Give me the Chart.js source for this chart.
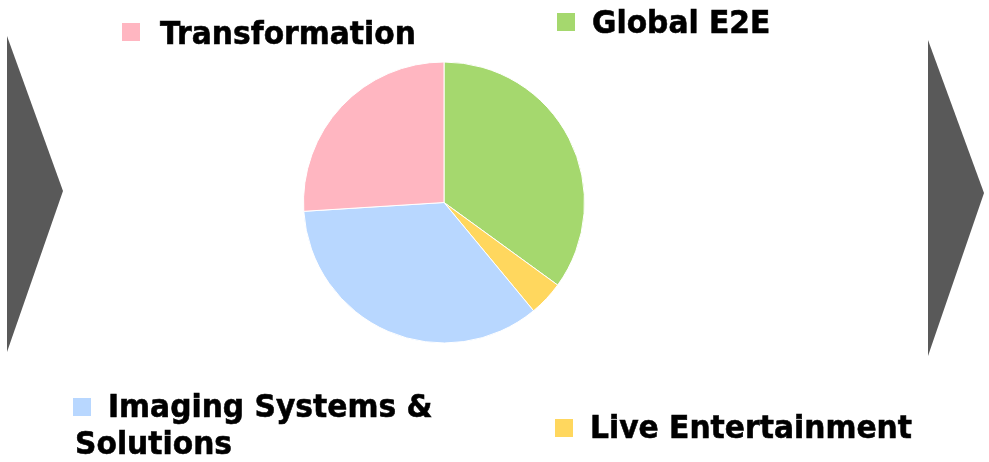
<!DOCTYPE html>
<html>
<head>
<meta charset="utf-8">
<script src="https://cdn.jsdelivr.net/npm/chart.js@4.4.1/dist/chart.umd.min.js"></script>
<style>
  html, body { margin: 0; padding: 0; background: #fff; }
  #pie { display: block; }
</style>
</head>
<body>
<canvas id="pie" width="989" height="462"></canvas>
<script>
// segmentos do gráfico (sentido horário a partir do topo)
const categories = ["Global E2E", "Live Entertainment", ["Imaging Systems &", "Solutions"], "Transformation"];
const shares = [35, 4, 35, 26];
const colors = ["#a5d86e", "#ffd75e", "#b8d7ff", "#ffb6c1"];

// onde cada legenda é escrita: quadrado + texto
const legendSpots = [
  { box: [557, 13], text: [592, 33] },
  { box: [555, 419], text: [590, 438] },
  { box: [73, 398], text: [108, 417], next: [75, 454] },
  { box: [122, 23], text: [160, 44] }
];

// setas cinzas nas laterais
const arrowsPlugin = {
  id: "arrows",
  beforeDraw(chart) {
    const ctx = chart.ctx;
    ctx.save();
    ctx.fillStyle = "#595959";
    [[7, 36, 63, 191, 352], [928, 40, 984, 193, 356]].forEach(([x0, top, tipX, tipY, bottom]) => {
      ctx.beginPath();
      ctx.moveTo(x0, top);
      ctx.lineTo(tipX, tipY);
      ctx.lineTo(x0, bottom);
      ctx.closePath();
      ctx.fill();
    });
    ctx.restore();
  }
};

// texto um pouco mais estreito e mais grosso
function drawBoldText(ctx, text, x, y) {
  ctx.save();
  ctx.translate(x, y);
  ctx.scale(0.93, 1);
  ctx.fillText(text, 0, 0);
  ctx.strokeText(text, 0, 0);
  ctx.restore();
}

// legenda espalhada em volta da pizza
const scatteredLegend = {
  id: "scatteredLegend",
  afterDraw(chart) {
    const ctx = chart.ctx;
    const labels = chart.data.labels;
    const bg = chart.data.datasets[0].backgroundColor;
    ctx.save();
    ctx.font = "bold 32px 'DejaVu Sans'";
    ctx.textBaseline = "alphabetic";
    ctx.lineWidth = 0.6;
    ctx.strokeStyle = "#000";
    labels.forEach((label, i) => {
      const spot = legendSpots[i];
      ctx.fillStyle = bg[i];
      ctx.fillRect(spot.box[0], spot.box[1], 18, 18);
      ctx.fillStyle = "#000";
      const lines = Array.isArray(label) ? label : [label];
      drawBoldText(ctx, lines[0], spot.text[0], spot.text[1]);
      if (lines[1]) drawBoldText(ctx, lines[1], spot.next[0], spot.next[1]);
    });
    ctx.restore();
  }
};

new Chart(document.getElementById("pie"), {
  type: "pie",
  data: {
    labels: categories,
    datasets: [{
      data: shares,
      backgroundColor: colors,
      borderColor: "#ffffff",
      borderWidth: 1
    }]
  },
  options: {
    responsive: false,
    animation: false,
    events: [],
    layout: { padding: { left: 303, right: 404, top: 61, bottom: 118 } },
    plugins: {
      legend: { display: false },
      tooltip: { enabled: false }
    }
  },
  plugins: [arrowsPlugin, scatteredLegend]
});
</script>
</body>
</html>
